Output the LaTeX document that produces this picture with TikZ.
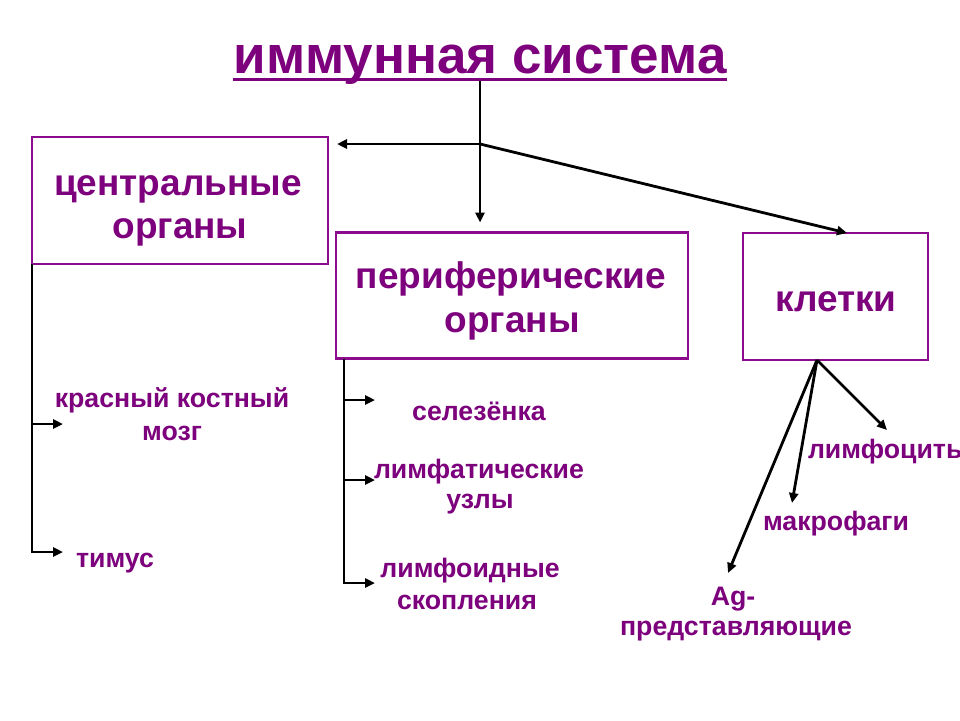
\documentclass[tikz,border=0pt]{standalone}
\usepackage{fontspec}
\setmainfont{Liberation Sans}
\usetikzlibrary{arrows.meta,calc}
\definecolor{pur}{RGB}{125,0,125}
\definecolor{purbox}{RGB}{140,10,140}
\tikzset{
  every node/.style={inner sep=0pt, outer sep=0pt},
  box/.style={draw=purbox, line width=2.8pt, fill=white},
  ttl/.style={text=pur, font=\bfseries\fontsize{53}{58}\selectfont, anchor=base},
  boxtxt/.style={text=pur, font=\bfseries\fontsize{37}{42}\selectfont, anchor=base},
  lbl/.style={text=pur, font=\bfseries\fontsize{26.7}{30}\selectfont, anchor=base},
  conn/.style={draw=black, line width=2.8pt},
  arr/.style={conn, -{Triangle[length=10pt,width=9pt]}},
}
\begin{document}
\begin{tikzpicture}[x=1pt,y=-1pt]
\useasboundingbox (0,0) rectangle (960,720);
\clip (0,0) rectangle (960,720);
\fill[white] (0,0) rectangle (960,720);

% title
\node[ttl] (title) at (480,73) {иммунная система};
\draw[pur, line width=3pt] ($(title.base west)+(0,6)$) -- ($(title.base east)+(0,6)$);

% boxes
\node[box, minimum width=296pt, minimum height=127pt] (central) at (180,200.5) {};
\node[box, minimum width=352pt, minimum height=126pt] (perif) at (512,295.5) {};
\node[box, minimum width=185pt, minimum height=127pt] (cells) at (835.5,296.5) {};

\node[boxtxt] (c1t) at (178,195) {центральные};
\node[boxtxt] (c2t) at (180,238) {органы};
\node[boxtxt] (p1t) at (511,288) {периферические};
\node[boxtxt] (p2t) at (512,332) {органы};
\node[boxtxt] (k1t) at (836,311) {клетки};

% top connectors
\coordinate (top) at (480,81);
\coordinate (J) at (480,144);
\coordinate (kt) at (847,233);
\draw[conn] (top) -- (J);
\draw[arr, shorten >=10pt] (J) -- (J |- perif.north);
\draw[arr, shorten >=9pt] (J) -- (central.east |- J);
\draw[arr] (J) -- (kt);

% central branches
\coordinate (ca) at (63,424);
\coordinate (cb) at (63,552);
\draw[arr] (central.south west) |- (cb);
\draw[arr] (central.south west |- ca) -- (ca);
\node[lbl] (krasn) at (172,407) {красный костный};
\node[lbl] (mozg) at (172,440) {мозг};
\node[lbl] (timus) at (115,567) {тимус};

% peripheral branches
\coordinate (p0) at (344,359);
\coordinate (pa) at (375,400);
\coordinate (pb) at (375,480);
\coordinate (pc) at (375,583);
\draw[arr] (p0) |- (pc);
\draw[arr] (p0 |- pa) -- (pa);
\draw[arr] (p0 |- pb) -- (pb);
\node[lbl] (selez) at (479,420) {селезёнка};
\node[lbl] (limf1) at (479,478) {лимфатические};
\node[lbl] (limf2) at (480,508) {узлы};
\node[lbl] (lo1) at (470,577) {лимфоидные};
\node[lbl] (lo2) at (467,609) {скопления};

% cells branches
\coordinate (k0) at (817,360);
\coordinate (ka) at (887,430);
\coordinate (kb) at (792,503);
\coordinate (kc) at (728,573);
\draw[arr] (k0) -- (ka);
\draw[arr] (k0) -- (kb);
\draw[arr] (k0) -- (kc);
\node[lbl, anchor=base west] (lymph) at (808,458) {лимфоциты};
\node[lbl] (macro) at (836,530) {макрофаги};
\node[lbl] (ag1) at (733,605) {Ag-};
\node[lbl] (ag2) at (736,635) {представляющие};
\end{tikzpicture}
\end{document}
